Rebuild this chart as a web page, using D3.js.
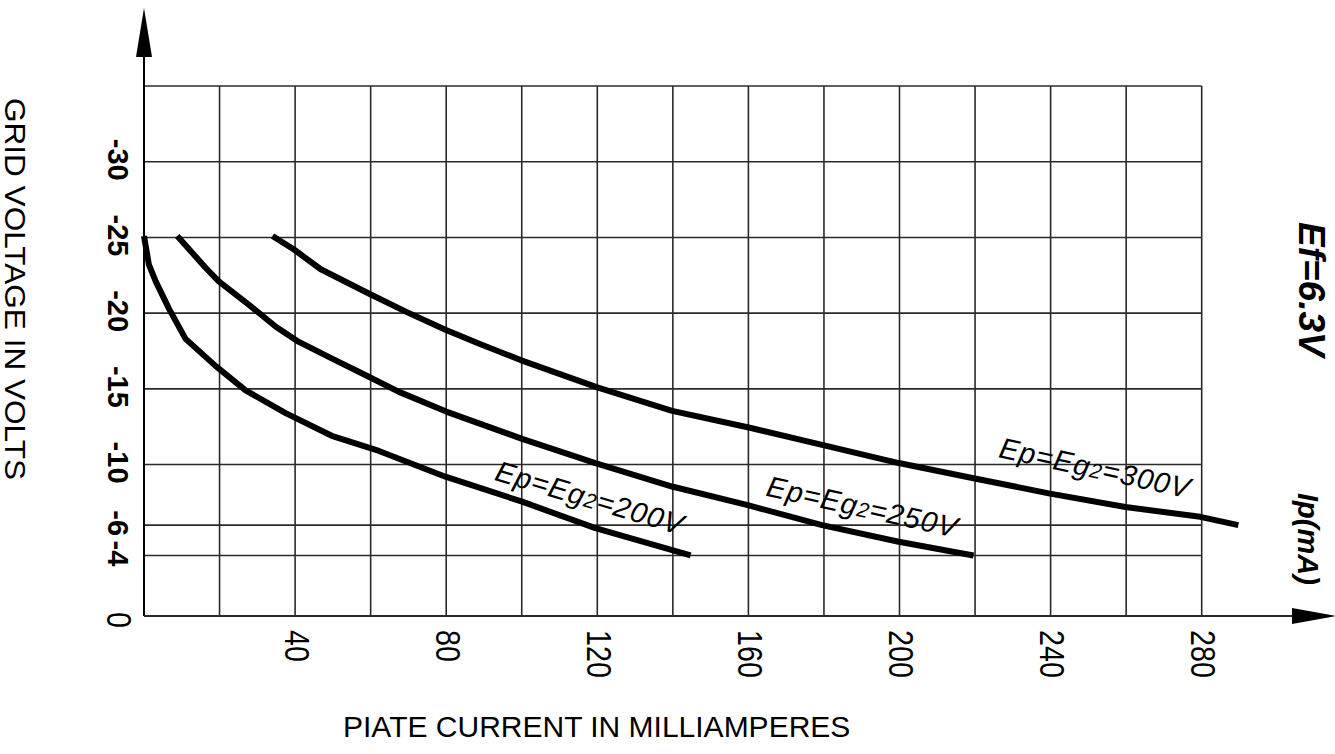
<!DOCTYPE html>
<html><head><meta charset="utf-8">
<script src="https://cdn.jsdelivr.net/npm/d3@7"></script>
<style>html,body{margin:0;padding:0;background:#fff;}svg{display:block;}</style>
</head><body>
<svg id="c" width="1335" height="754"></svg>
<script>
// ---- data ----
const xGridTicks = [20,40,60,80,100,120,140,160,180,200,220,240,260,280];
const yGridTicks = [-4,-6,-10,-15,-20,-25,-30,-35];
const xTickLabels = [40,80,120,160,200,240,280];
const yTickLabels = [-30,-25,-20,-15,-10,-6,-4];
// [plate current mA, grid voltage V]
const curve200 = [[0,-25.1],[1.3,-23.2],[3.1,-22.1],[6.6,-20.3],[11.0,-18.3],[19.0,-16.5],[26.9,-14.9],[37.5,-13.4],[49.7,-11.9],[62.2,-10.9],[79.8,-9.2],[100.1,-7.55],[119.5,-5.8],[144.7,-4.0]];
const curve250 = [[8.8,-25.1],[16.3,-23.0],[19.8,-22.1],[27.8,-20.55],[34.9,-19.1],[41.0,-18.1],[49.8,-17.0],[58.7,-15.9],[67.5,-14.8],[80.0,-13.5],[100.1,-11.7],[119.5,-10.1],[139.8,-8.55],[160.1,-7.3],[179.5,-6.0],[199.8,-4.9],[219.6,-4.0]];
const curve300 = [[34.0,-25.1],[39.7,-24.2],[46.8,-22.9],[59.5,-21.3],[69.3,-20.1],[79.8,-18.9],[88.6,-18.0],[99.7,-16.9],[120.0,-15.1],[139.8,-13.55],[160.1,-12.45],[179.5,-11.3],[199.8,-10.1],[219.6,-9.1],[239.5,-8.1],[259.8,-7.2],[279.6,-6.55],[289.7,-6.0]];
const curveLabels = [
  {main:"Ep=Eg", sub:"2", tail:"=200V", at:[92.5,-9.0], angle:16.5},
  {main:"Ep=Eg", sub:"2", tail:"=250V", at:[164.4,-7.95], angle:12.5},
  {main:"Ep=Eg", sub:"2", tail:"=300V", at:[226.0,-10.5], angle:12.3}
];

const svg = d3.select("#c");
const x = d3.scaleLinear().domain([0,280]).range([144,1201.7]);
const y = d3.scaleLinear().domain([0,-35]).range([616,86]);

// grid
const g = svg.append("g").attr("stroke","#2a2a2a").attr("stroke-width",1.6);
g.selectAll("line.v").data(xGridTicks).join("line")
  .attr("x1",d=>x(d)).attr("x2",d=>x(d)).attr("y1",y(0)).attr("y2",y(-35));
g.selectAll("line.h").data(yGridTicks).join("line")
  .attr("x1",x(0)).attr("x2",x(280)).attr("y1",d=>y(d)).attr("y2",d=>y(d));

// axes with arrows
svg.append("line").attr("x1",x(0)).attr("x2",x(0)).attr("y1",y(0)).attr("y2",50)
  .attr("stroke","#000").attr("stroke-width",2);
svg.append("path").attr("d",`M${x(0)},8 L${x(0)-8},57 L${x(0)+8},57 Z`).attr("fill","#000");
svg.append("line").attr("x1",x(0)).attr("x2",1300).attr("y1",y(0)).attr("y2",y(0))
  .attr("stroke","#2a2a2a").attr("stroke-width",2);
svg.append("path").attr("d",`M1337,${y(0)} L1292,${y(0)-8} L1292,${y(0)+8} Z`).attr("fill","#000");

// curves
const line = d3.line().x(d=>x(d[0])).y(d=>y(d[1]));
[curve200,curve250,curve300].forEach(c=>{
  svg.append("path").attr("d",line(c)).attr("fill","none").attr("stroke","#000")
    .attr("stroke-width",6).attr("stroke-linejoin","round");
});

// curve labels
curveLabels.forEach(l=>{
  const t = svg.append("text")
    .attr("transform",`translate(${x(l.at[0])},${y(l.at[1])}) rotate(${l.angle})`)
    .attr("font-family","Liberation Sans, Arial, sans-serif").attr("font-style","italic")
    .attr("font-size",29).attr("letter-spacing",1).attr("fill","#000");
  t.append("tspan").text(l.main);
  t.append("tspan").attr("font-size",21).text(l.sub);
  t.append("tspan").text(l.tail);
});

// x tick labels
svg.append("g").selectAll("text").data(xTickLabels).join("text")
  .attr("transform",d=>`translate(${x(d)+2},630) rotate(90) scale(0.82,1)`)
  .attr("dy","0.35em").attr("font-family","Liberation Sans, Arial, sans-serif")
  .attr("font-size",35).attr("fill","#000").text(d=>d);
svg.append("text").attr("transform",`translate(119,${y(0)+4}) rotate(90) scale(0.82,1)`)
  .attr("dy","0.35em").attr("text-anchor","middle")
  .attr("font-family","Liberation Sans, Arial, sans-serif").attr("font-size",35).text("0");

// y tick labels
svg.append("g").selectAll("text").data(yTickLabels).join("text")
  .attr("transform",d=>`translate(118,${y(d)-2}) rotate(90)`)
  .attr("dy","0.35em").attr("text-anchor","middle")
  .attr("font-family","Liberation Sans, Arial, sans-serif").attr("font-weight","bold")
  .attr("font-size",29).attr("fill","#000").text(d=>d);

// titles
svg.append("text").attr("x",343).attr("y",737)
  .attr("font-family","Liberation Sans, Arial, sans-serif").attr("font-size",30)
  .text("PIATE CURRENT IN MILLIAMPERES");
svg.append("text").attr("transform","translate(5,98) rotate(90)")
  .attr("font-family","Liberation Sans, Arial, sans-serif").attr("font-size",29)
  .attr("textLength",382).attr("lengthAdjust","spacingAndGlyphs")
  .text("GRID VOLTAGE IN VOLTS");
svg.append("text").attr("transform","translate(1299,222) rotate(90)")
  .attr("font-family","Liberation Sans, Arial, sans-serif").attr("font-size",37)
  .attr("font-weight","bold").attr("font-style","italic").text("Ef=6.3V");
svg.append("text").attr("transform","translate(1298,493) rotate(90)")
  .attr("font-family","Liberation Sans, Arial, sans-serif").attr("font-size",29)
  .attr("font-weight","bold").attr("font-style","italic").text("Ip(mA)");
</script>
</body></html>
